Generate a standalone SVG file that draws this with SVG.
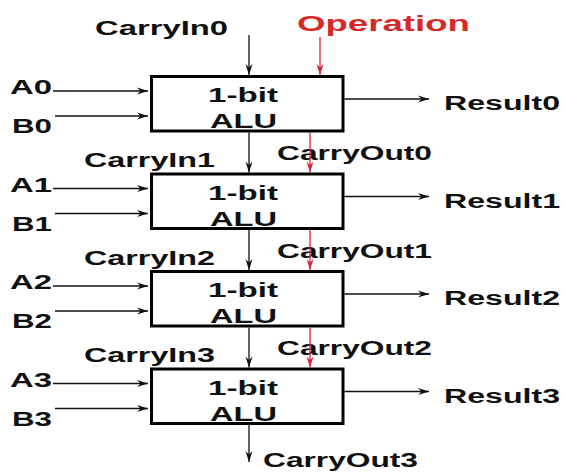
<svg xmlns="http://www.w3.org/2000/svg" width="564" height="472" viewBox="0 0 564 472">
<defs>
<marker id="ah" markerWidth="12" markerHeight="8" refX="11" refY="4" orient="auto" markerUnits="userSpaceOnUse"><path d="M0,0.5 L11,4 L0,7.5 L3.5,4 z" fill="#111"/></marker>
<marker id="ahr" markerWidth="12" markerHeight="8" refX="11" refY="4" orient="auto" markerUnits="userSpaceOnUse"><path d="M0,0.5 L11,4 L0,7.5 L3.5,4 z" fill="#d9243a"/></marker>
</defs>
<style>
text{font-family:"Liberation Sans",Arial,sans-serif;font-weight:bold;font-size:20px;fill:#111}
.op{font-size:22px;fill:#d42a2a}
.box{fill:#fff;stroke:#000;stroke-width:3}
.w{stroke:#111;stroke-width:1.3;fill:none;marker-end:url(#ah)}
.r{stroke:#d9243a;stroke-width:1.3;fill:none;marker-end:url(#ahr)}
</style>
<rect width="564" height="472" fill="#fff"/>

<g id="alu0"><rect class="box" x="151.5" y="76.5" width="191.5" height="54.5"/><text x="208" y="102" textLength="70" lengthAdjust="spacingAndGlyphs">1-bit</text><text x="210" y="128" textLength="67" lengthAdjust="spacingAndGlyphs">ALU</text></g>
<g id="alu1"><rect class="box" x="151.5" y="174" width="191.5" height="54.5"/><text x="208" y="199.5" textLength="70" lengthAdjust="spacingAndGlyphs">1-bit</text><text x="210" y="225.5" textLength="67" lengthAdjust="spacingAndGlyphs">ALU</text></g>
<g id="alu2"><rect class="box" x="151.5" y="271.5" width="191.5" height="54.5"/><text x="208" y="297" textLength="70" lengthAdjust="spacingAndGlyphs">1-bit</text><text x="210" y="323" textLength="67" lengthAdjust="spacingAndGlyphs">ALU</text></g>
<g id="alu3"><rect class="box" x="151.5" y="369" width="191.5" height="54.5"/><text x="208" y="394.5" textLength="70" lengthAdjust="spacingAndGlyphs">1-bit</text><text x="210" y="420.5" textLength="67" lengthAdjust="spacingAndGlyphs">ALU</text></g>

<g id="labels">
<text x="95" y="35" textLength="133" lengthAdjust="spacingAndGlyphs">CarryIn0</text>
<text class="op" x="297" y="31" textLength="173" lengthAdjust="spacingAndGlyphs">Operation</text>
<text x="84" y="167" textLength="131" lengthAdjust="spacingAndGlyphs">CarryIn1</text>
<text x="84" y="264.5" textLength="131" lengthAdjust="spacingAndGlyphs">CarryIn2</text>
<text x="84" y="362" textLength="131" lengthAdjust="spacingAndGlyphs">CarryIn3</text>
<text x="277" y="160" textLength="155" lengthAdjust="spacingAndGlyphs">CarryOut0</text>
<text x="277" y="257.5" textLength="155" lengthAdjust="spacingAndGlyphs">CarryOut1</text>
<text x="277" y="355" textLength="155" lengthAdjust="spacingAndGlyphs">CarryOut2</text>
<text x="263" y="467" textLength="155" lengthAdjust="spacingAndGlyphs">CarryOut3</text>
<text x="10" y="94" textLength="42" lengthAdjust="spacingAndGlyphs">A0</text>
<text x="12" y="133" textLength="40" lengthAdjust="spacingAndGlyphs">B0</text>
<text x="10" y="191.5" textLength="42" lengthAdjust="spacingAndGlyphs">A1</text>
<text x="12" y="230.5" textLength="40" lengthAdjust="spacingAndGlyphs">B1</text>
<text x="10" y="289" textLength="42" lengthAdjust="spacingAndGlyphs">A2</text>
<text x="12" y="328" textLength="40" lengthAdjust="spacingAndGlyphs">B2</text>
<text x="10" y="386.5" textLength="42" lengthAdjust="spacingAndGlyphs">A3</text>
<text x="12" y="425.5" textLength="40" lengthAdjust="spacingAndGlyphs">B3</text>
<text x="444" y="110" textLength="116" lengthAdjust="spacingAndGlyphs">Result0</text>
<text x="444" y="207.5" textLength="116" lengthAdjust="spacingAndGlyphs">Result1</text>
<text x="444" y="305" textLength="116" lengthAdjust="spacingAndGlyphs">Result2</text>
<text x="444" y="402.5" textLength="116" lengthAdjust="spacingAndGlyphs">Result3</text>
</g>

<g id="connectors">
<path class="w" d="M249,35 V75"/>
<path class="w" d="M249,132.5 V172.5"/>
<path class="w" d="M249,230 V270"/>
<path class="w" d="M249,327.5 V367.5"/>
<path class="w" d="M249,425 V462"/>
<path class="w" d="M53,91 H148"/>
<path class="w" d="M55,116 H148"/>
<path class="w" d="M53,188.5 H148"/>
<path class="w" d="M55,213.5 H148"/>
<path class="w" d="M53,286 H148"/>
<path class="w" d="M55,311 H148"/>
<path class="w" d="M53,383.5 H148"/>
<path class="w" d="M55,408.5 H148"/>
<path class="w" d="M344.5,99 H429"/>
<path class="w" d="M344.5,196.5 H429"/>
<path class="w" d="M344.5,294 H429"/>
<path class="w" d="M344.5,391.5 H429"/>
<path class="r" d="M320,37 V75"/>
<path class="r" d="M310,132.5 V172.5"/>
<path class="r" d="M310,230 V270"/>
<path class="r" d="M310,327.5 V367.5"/>
</g>
</svg>
